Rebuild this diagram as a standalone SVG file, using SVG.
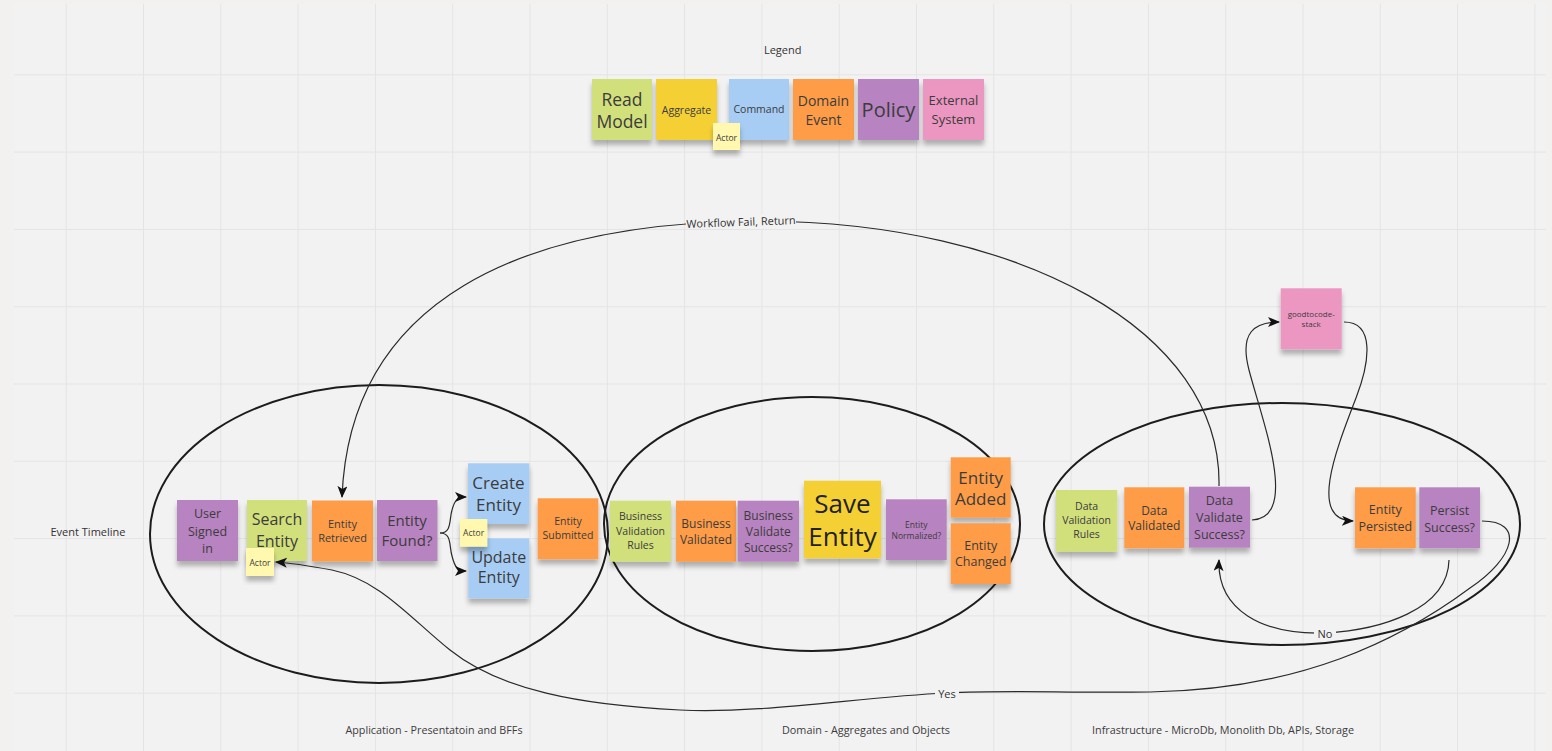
<svg xmlns="http://www.w3.org/2000/svg" width="1552" height="751" viewBox="0 0 1552 751">
<defs>
<pattern id="grid" patternUnits="userSpaceOnUse" x="65.7" y="74.3" width="77.3" height="77.3">
<path d="M0.5,0 V77.3 M0,0.5 H77.3" stroke="#e4e4e4" stroke-width="1" fill="none"/>
</pattern>
<filter id="sh" x="-20%" y="-20%" width="140%" height="150%">
<feDropShadow dx="0" dy="5" stdDeviation="2.5" flood-color="#000" flood-opacity="0.28"/>
</filter>
<marker id="arr" markerUnits="userSpaceOnUse" markerWidth="14" markerHeight="12" refX="11" refY="5" orient="auto">
<path d="M0,0 L12,5 L0,10 L3,5 z" fill="#111"/>
</marker>
</defs>
<style>
text{font-family:"Open Sans","Liberation Sans",sans-serif;fill:#3c3c3c;text-anchor:middle;dominant-baseline:central}
.n{filter:url(#sh)}
.lime{fill:#d2e07c}
.yel{fill:#f5d034}
.blue{fill:#a7cdf4}
.org{fill:#fe9c47}
.pur{fill:#b883c1}
.pink{fill:#ec97c1}
.act{fill:#fff8ae}
.ell{fill:none;stroke:#1c1c1c;stroke-width:2}
.c{fill:none;stroke:#2a2a2a;stroke-width:1.2}
.lbl{font-size:11px;fill:#333}
.lb{fill:#f2f2f2}
</style>
<rect x="0" y="0" width="1552" height="751" fill="#f2f1f0"/>
<rect x="14" y="4" width="1532" height="747" fill="#f2f2f2"/>
<rect x="14" y="4" width="1532" height="747" fill="url(#grid)"/>

<g id="labels">
<text x="782.7" y="49" class="lbl">Legend</text>
<text x="88" y="531" class="lbl">Event Timeline</text>
<text x="434" y="730" style="font-size:10.5px" textLength="177" lengthAdjust="spacingAndGlyphs">Application - Presentatoin and BFFs</text>
<text x="866" y="730" style="font-size:10.5px" textLength="168" lengthAdjust="spacingAndGlyphs">Domain - Aggregates and Objects</text>
<text x="1223" y="730" style="font-size:10.5px" textLength="262" lengthAdjust="spacingAndGlyphs">Infrastructure - MicroDb, Monolith Db, APIs, Storage</text>
</g>

<g id="ellipses">
<ellipse id="app-boundary" class="ell" cx="379" cy="534" rx="229" ry="149"/>
<ellipse id="domain-boundary" class="ell" cx="812" cy="524" rx="208" ry="127"/>
<ellipse id="infra-boundary" class="ell" cx="1282" cy="524" rx="238" ry="121"/>
</g>

<g id="legend-read-model"><rect class="n lime" x="592" y="79" width="60" height="61"/><text x="622" style="font-size:17.5px"><tspan x="622" y="98.5">Read</tspan><tspan x="622" y="120.5">Model</tspan></text></g>
<g id="legend-aggregate"><rect class="n yel" x="656" y="79" width="61" height="61"/><text x="686.5" y="110" style="font-size:10.5px">Aggregate</text></g>
<g id="legend-command"><rect class="n blue" x="729" y="79" width="60" height="61"/><text x="759" y="109" style="font-size:10.5px">Command</text></g>
<g id="legend-actor"><rect class="n act" x="713" y="123" width="27" height="27"/><text x="726.5" y="137" style="font-size:8.5px">Actor</text></g>
<g id="legend-domain-event"><rect class="n org" x="793" y="79" width="61" height="61"/><text style="font-size:14px"><tspan x="823.5" y="100">Domain</tspan><tspan x="823.5" y="118.5">Event</tspan></text></g>
<g id="legend-policy"><rect class="n pur" x="858" y="79" width="61" height="61"/><text x="888.5" y="109" style="font-size:20px">Policy</text></g>
<g id="legend-external"><rect class="n pink" x="923" y="79" width="61" height="61"/><text style="font-size:13px"><tspan x="953.5" y="100">External</tspan><tspan x="953.5" y="118.5">System</tspan></text></g>

<g id="user-signed-in"><rect class="n pur" x="177" y="500" width="61" height="61"/><text style="font-size:12.5px"><tspan x="207.5" y="513">User</tspan><tspan x="207.5" y="530.5">Signed</tspan><tspan x="207.5" y="547.5">in</tspan></text></g>
<g id="search-entity"><rect class="n lime" x="247" y="500" width="60" height="61"/><text style="font-size:16px"><tspan x="277" y="519">Search</tspan><tspan x="277" y="541">Entity</tspan></text></g>
<g id="search-actor"><rect class="n act" x="246" y="548" width="28" height="28"/><text x="260" y="562" style="font-size:8.5px">Actor</text></g>
<g id="entity-retrieved"><rect class="n org" x="312" y="500.5" width="61" height="61"/><text style="font-size:11px"><tspan x="342.5" y="522.7">Entity</tspan><tspan x="342.5" y="537.3">Retrieved</tspan></text></g>
<g id="entity-found"><rect class="n pur" x="377" y="500" width="60.5" height="61"/><text style="font-size:15px"><tspan x="407" y="520">Entity</tspan><tspan x="407" y="540">Found?</tspan></text></g>
<g id="create-entity"><rect class="n blue" x="468" y="463.3" width="61.3" height="60.7"/><text style="font-size:17px"><tspan x="498.5" y="482.3">Create</tspan><tspan x="498.5" y="504">Entity</tspan></text></g>
<g id="update-entity"><rect class="n blue" x="468.3" y="538.3" width="61" height="60"/><text style="font-size:16px"><tspan x="498.8" y="557.3">Update</tspan><tspan x="498.8" y="577">Entity</tspan></text></g>
<g id="create-actor"><rect class="n act" x="460" y="519" width="27.3" height="27.7"/><text x="473.6" y="532.8" style="font-size:8.5px">Actor</text></g>
<g id="entity-submitted"><rect class="n org" x="537.7" y="498.3" width="60.6" height="61"/><text style="font-size:10.5px"><tspan x="568" y="521">Entity</tspan><tspan x="568" y="535.3">Submitted</tspan></text></g>

<g id="business-validation-rules"><rect class="n lime" x="610" y="500.7" width="61" height="61"/><text style="font-size:10.5px"><tspan x="640.5" y="516">Business</tspan><tspan x="640.5" y="531">Validation</tspan><tspan x="640.5" y="545">Rules</tspan></text></g>
<g id="business-validated"><rect class="n org" x="676" y="500.7" width="60" height="61"/><text style="font-size:12px"><tspan x="706" y="523.3">Business</tspan><tspan x="706" y="538.7">Validated</tspan></text></g>
<g id="business-validate-success"><rect class="n pur" x="737.7" y="500.7" width="61.3" height="61"/><text style="font-size:12px"><tspan x="768.3" y="515">Business</tspan><tspan x="768.3" y="531">Validate</tspan><tspan x="768.3" y="546.7">Success?</tspan></text></g>
<g id="save-entity"><rect class="n yel" x="804" y="480.7" width="77" height="77.6"/><text style="font-size:26px;fill:#222"><tspan x="842.5" y="503.3">Save</tspan><tspan x="842.5" y="536">Entity</tspan></text></g>
<g id="entity-normalized"><rect class="n pur" x="886" y="499.3" width="60.7" height="60.7"/><text style="font-size:8.5px"><tspan x="916.3" y="524">Entity</tspan><tspan x="916.3" y="534.7">Normalized?</tspan></text></g>
<g id="entity-added"><rect class="n org" x="950.7" y="457.3" width="60" height="60.4"/><text style="font-size:17px"><tspan x="980.7" y="476.5">Entity</tspan><tspan x="980.7" y="497.5">Added</tspan></text></g>
<g id="entity-changed"><rect class="n org" x="950.7" y="523.3" width="60" height="60.7"/><text style="font-size:12.5px"><tspan x="980.7" y="545">Entity</tspan><tspan x="980.7" y="560.7">Changed</tspan></text></g>

<g id="goodtocode-stack"><rect class="n pink" x="1280.7" y="288.3" width="61" height="61"/><text style="font-size:8px"><tspan x="1311.2" y="313.3">goodtocode-</tspan><tspan x="1311.2" y="323.3">stack</tspan></text></g>
<g id="data-validation-rules"><rect class="n lime" x="1056" y="490" width="61.3" height="61.7"/><text style="font-size:10.5px"><tspan x="1086.6" y="506">Data</tspan><tspan x="1086.6" y="520">Validation</tspan><tspan x="1086.6" y="534">Rules</tspan></text></g>
<g id="data-validated"><rect class="n org" x="1124.3" y="487.3" width="60" height="61"/><text style="font-size:12px"><tspan x="1154.3" y="510">Data</tspan><tspan x="1154.3" y="525">Validated</tspan></text></g>
<g id="data-validate-success"><rect class="n pur" x="1189" y="486.7" width="61" height="61"/><text style="font-size:12.5px"><tspan x="1219.5" y="500">Data</tspan><tspan x="1219.5" y="517.3">Validate</tspan><tspan x="1219.5" y="534">Success?</tspan></text></g>
<g id="entity-persisted"><rect class="n org" x="1355" y="487.3" width="60.7" height="61"/><text style="font-size:12.5px"><tspan x="1385.3" y="509.3">Entity</tspan><tspan x="1385.3" y="525.7">Persisted</tspan></text></g>
<g id="persist-success"><rect class="n pur" x="1419.3" y="487.3" width="60.7" height="61"/><text style="font-size:12.5px"><tspan x="1449.6" y="510">Persist</tspan><tspan x="1449.6" y="526.7">Success?</tspan></text></g>

<g id="connectors">
<path class="c" marker-end="url(#arr)" d="M1219,486 C1222,330 1020,222 760,221 C520,222 350,300 342,497"/>
<path class="c" marker-end="url(#arr)" d="M440,533 C452,533 449,520 452,510 C455,499 458,497 466,497"/>
<path class="c" marker-end="url(#arr)" d="M440,533 C452,533 449,546 452,556 C455,568 458,571 466,571"/>
<path class="c" marker-end="url(#arr)" d="M1252,520 C1300,518 1262,420 1249,370 C1239,332 1255,322 1279,322"/>
<path class="c" marker-end="url(#arr)" d="M1344,322 C1375,322 1370,362 1356,398 C1336,450 1308,520 1353,521"/>
<path class="c" marker-end="url(#arr)" d="M1449,560 C1448,610 1380,630 1325,633 C1262,635 1217,610 1219,560"/>
<path class="c" marker-end="url(#arr)" d="M1482,521 C1525,521 1515,558 1470,588 C1400,640 1300,690 1150,692 C1060,693 1010,690 946,693 C860,697 760,714 680,710 C580,705 500,690 450,650 C410,618 380,580 332,570 C310,566 292,563 276,562"/>
<g id="connector-labels">
<rect class="lb" x="686" y="214" width="110" height="15"/>
<text x="741" y="221.5" class="lbl" transform="rotate(-2 741 221.5)">Workflow Fail, Return</text>
<rect class="lb" x="1314" y="626" width="22" height="14"/>
<text x="1325" y="633" class="lbl">No</text>
<rect class="lb" x="935" y="686" width="24" height="14"/>
<text x="947" y="693" class="lbl">Yes</text>
</g>
</g>
</svg>
